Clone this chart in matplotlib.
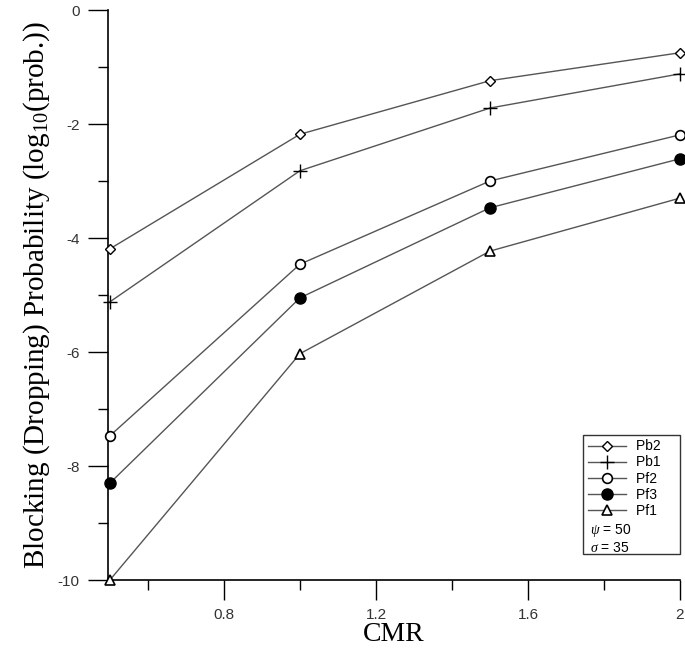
import numpy as np
import matplotlib.pyplot as plt
from matplotlib.lines import Line2D
from matplotlib.ticker import MultipleLocator

plt.rcParams['axes.unicode_minus'] = False
plt.rcParams['mathtext.fontset'] = 'custom'
plt.rcParams['mathtext.rm'] = 'Liberation Serif'
plt.rcParams['mathtext.it'] = 'Liberation Serif:italic'

# CMR values on the x axis
cmr = [0.5, 1.0, 1.5, 2.0]

# blocking / dropping probabilities, log10
pb2 = [-4.19, -2.18, -1.24, -0.75]
pb1 = [-5.12, -2.82, -1.72, -1.12]
pf2 = [-7.47, -4.46, -3.00, -2.19]
pf3 = [-8.30, -5.05, -3.47, -2.61]
pf1 = [-10.0, -6.03, -4.23, -3.30]

series = [
    ('Pb2', pb2, dict(marker='D', markersize=5, markerfacecolor='white')),
    ('Pb1', pb1, dict(marker='+', markersize=10, markeredgewidth=1.0)),
    ('Pf2', pf2, dict(marker='o', markersize=7, markerfacecolor='white', markeredgewidth=1.2)),
    ('Pf3', pf3, dict(marker='o', markersize=8, markerfacecolor='black')),
    ('Pf1', pf1, dict(marker='^', markersize=7, markerfacecolor='white', markeredgewidth=1.2)),
]

fig = plt.figure(figsize=(6.85, 6.55), dpi=100)
ax = fig.add_axes([108 / 685, 1 - 580 / 655, 572 / 685, 570 / 655])

handles = []
for name, vals, style in series:
    ax.plot(cmr, vals, color='#555555', linewidth=1.0,
            markeredgecolor='black', clip_on=False, zorder=3, **style)
    handles.append(Line2D([], [], color='#555555', linewidth=1.0,
                          markeredgecolor='black', label=name, **style))

# two blank rows for the parameter notes
blank = Line2D([], [], linestyle='none', marker='none')
handles += [blank, blank]
labels = [h.get_label() + '    ' for h in handles[:5]] + [' ', ' ']

ax.set_xlim(0.495, 2.0)
ax.set_ylim(-10, 0)
ax.set_xticks([0.8, 1.2, 1.6, 2.0])
ax.set_xticklabels(['0.8', '1.2', '1.6', '2'])
ax.xaxis.set_minor_locator(MultipleLocator(0.2))
ax.yaxis.set_major_locator(MultipleLocator(2))
ax.yaxis.set_minor_locator(MultipleLocator(1))

ax.spines['top'].set_visible(False)
ax.spines['right'].set_visible(False)
for s in ['left', 'bottom']:
    ax.spines[s].set_linewidth(1.2)

ax.tick_params(which='major', direction='out', length=14.4, width=1.0,
               labelsize=11, labelcolor='#333333', pad=6)
ax.tick_params(which='minor', direction='out', length=7.2, width=1.0)
for lab in ax.get_xticklabels() + ax.get_yticklabels():
    lab.set_family('Liberation Sans')

ax.set_xlabel('CMR', family='Liberation Serif', fontsize=20, labelpad=0)
ax.set_ylabel('Blocking (Dropping) Probability (log$_{10}$(prob.))',
              family='Liberation Serif', fontsize=21, labelpad=4)

leg = ax.legend(handles, labels, loc='upper right', bbox_to_anchor=(1.0, 0.254),
                borderaxespad=0, frameon=True, fancybox=False, edgecolor='black',
                prop={'family': 'Liberation Sans', 'size': 10},
                labelspacing=0.15, handlelength=2.75, handletextpad=0.7,
                borderpad=0.3)
leg.get_frame().set_linewidth(1.0)
leg.set_zorder(5)

ax.text(0.843, 0.086, r'$\psi$ = 50', transform=ax.transAxes,
        fontsize=10, family='Liberation Sans', va='center', zorder=10)
ax.text(0.843, 0.056, r'$\sigma$ = 35', transform=ax.transAxes,
        fontsize=10, family='Liberation Sans', va='center', zorder=10)

fig.savefig('out.png', dpi=100)
